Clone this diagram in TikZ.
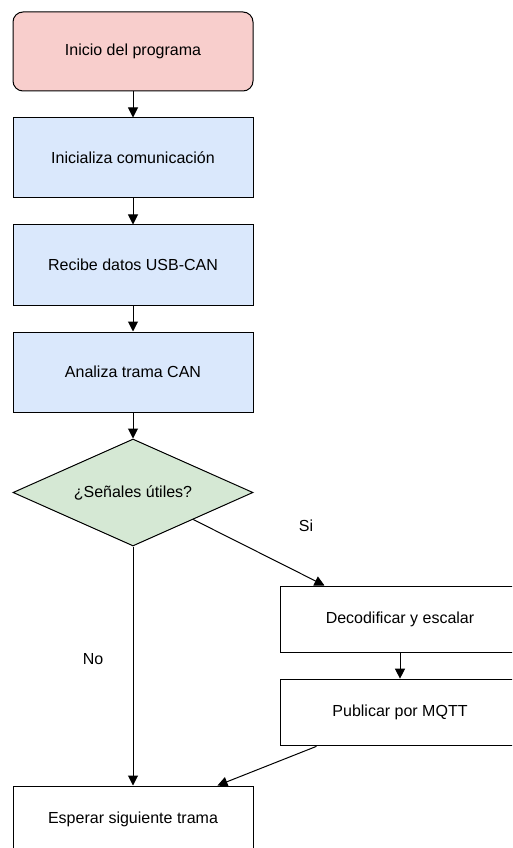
\documentclass[tikz,border=0pt]{standalone}
\usepackage{fontspec}
\setmainfont{Liberation Sans}
\usetikzlibrary{arrows.meta,calc,shapes.geometric}
\definecolor{startfill}{HTML}{F8CECC}
\definecolor{procfill}{HTML}{DAE8FC}
\definecolor{decfill}{HTML}{D5E8D4}
\begin{document}
\begin{tikzpicture}[x=0.75pt,y=-0.75pt,
  font=\fontsize{12pt}{14pt}\selectfont,
  base/.style={draw=black, line width=0.75pt, inner sep=0pt, align=center},
  startbox/.style={base, rectangle, rounded corners=7.5pt, fill=startfill, minimum width=180pt, minimum height=59.25pt},
  procbox/.style={base, rectangle, fill=procfill, minimum width=180pt, minimum height=60pt},
  plainbox/.style={base, rectangle, fill=white, minimum width=180pt, minimum height=49.5pt},
  decision/.style={base, diamond, aspect=2.24, fill=decfill, minimum width=180pt, minimum height=80.25pt},
  flow/.style={draw=black, line width=0.75pt, -{Triangle[length=7.5pt,width=7.5pt]}},
  lbl/.style={inner sep=0pt}
]
\useasboundingbox (0,0) rectangle (512,848);
\clip (0,0) rectangle (512,848);

% main column
\node[startbox] (start) at (133,51.5) {Inicio del programa};
\node[procbox]  (init)  at (133,158) {Inicializa comunicación};
\node[procbox]  (recv)  at (133,265) {Recibe datos USB-CAN};
\node[procbox]  (anal)  at (133,372) {Analiza trama CAN};
\node[decision] (dec)   at (133,492.5) {¿Señales útiles?};

% right branch
\node[plainbox] (decod) at (400,619) {Decodificar y escalar};
\node[plainbox, minimum height=50pt] (pub) at (400,712.5) {Publicar por MQTT};

% end step
\node[plainbox] (wait) at (133,819) {Esperar siguiente trama};

% branch labels
\node[lbl] (si) at (306,526) {Si};
\node[lbl] (no) at (93,659) {No};

% connectors
\draw[flow] (start) -- (init);
\draw[flow] (init) -- (recv);
\draw[flow] (recv) -- (anal);
\draw[flow] (anal) -- (dec);

\coordinate (dse) at ($(dec.east)!0.5!(dec.south)$);
\coordinate (decodin) at ($(decod.north west)+(45,0)$);
\draw[flow] (dse) -- (decodin);

\draw[flow] (dec.south) -- (wait.north);
\draw[flow] (decod) -- (pub);

\coordinate (pubout) at ($(pub.south west)+(37,0)$);
\coordinate (waitin) at ($(wait.north west)+(205,0)$);
\draw[flow] (pubout) -- (waitin);
\end{tikzpicture}
\end{document}
